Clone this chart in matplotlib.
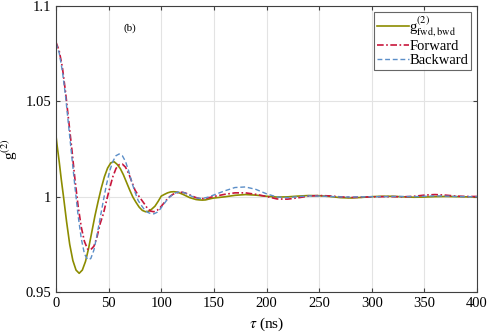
import matplotlib
matplotlib.use("Agg")
import matplotlib.pyplot as plt
import numpy as np

plt.rcParams['font.family'] = ['Liberation Serif', 'DejaVu Serif']
plt.rcParams['mathtext.fontset'] = 'stix'

# tau grid (ns): fine in the oscillating part, coarse in the tail
tau = [0, 3, 6, 9, 12, 15, 18, 21, 24, 27, 30, 33, 36, 39, 42, 45, 48, 51, 54,
       57, 60, 63, 66, 69, 72, 75, 78, 81, 84, 87, 90, 93, 96, 99, 102, 105,
       108, 111, 114, 117, 120, 123, 126, 129, 132, 135, 138, 141, 144, 147,
       150, 160, 170, 180, 190, 200, 210, 220, 230, 240, 250, 260, 270, 280,
       290, 300, 310, 320, 330, 340, 350, 360, 370, 380, 390, 400]

# olive curve uses its own early samples (it starts lower and turns earlier)
tau_fb = [0, 1, 3, 5, 7, 10, 13, 16, 19, 22, 25, 28, 31, 34, 37, 40, 43, 46,
          49, 52, 55, 58, 61, 64, 67, 70, 73, 76, 79, 82, 85, 88, 91, 94, 97,
          100, 103, 106, 109, 112, 115, 118, 121, 124, 127, 130, 133, 136,
          139, 142, 145, 148, 150, 160, 170, 180, 190, 200, 210, 220, 230,
          240, 250, 260, 270, 280, 290, 300, 310, 320, 330, 340, 350, 360,
          370, 380, 390, 400]
g_fb = [1.0318, 1.027, 1.0185, 1.009, 1.0005, 0.987, 0.975, 0.9665, 0.9615,
        0.9598, 0.9615, 0.966, 0.973, 0.9815, 0.990, 0.9975, 1.0045, 1.0105,
        1.015, 1.0177, 1.0184, 1.017, 1.0148, 1.0115, 1.0075, 1.0035, 0.9998,
        0.997, 0.9945, 0.9928, 0.9921, 0.9923, 0.9935, 0.995, 0.9975, 1.0003,
        1.0012, 1.002, 1.0025, 1.0026, 1.0024, 1.0018, 1.0011, 1.0003, 0.9995,
        0.999, 0.9985, 0.9983, 0.9982, 0.9983, 0.9987, 0.9991, 0.9993, 0.9999,
        1.0007, 1.0011, 1.0008, 1.0002, 0.9998, 0.9999, 1.0003, 1.0006, 1.0005,
        1.0001, 0.9995, 0.9993, 0.9996, 1.0000, 1.0002, 1.0002, 0.9999, 0.9997,
        0.9998, 1.0000, 1.0001, 1.0000, 0.9999, 0.9999]

g_fwd = [1.081, 1.0765, 1.068, 1.055, 1.040, 1.025, 1.009, 0.995, 0.984,
         0.9765, 0.9725, 0.9722, 0.974, 0.979, 0.986, 0.991, 0.998, 1.0045,
         1.0105, 1.0148, 1.0168, 1.0171, 1.0155, 1.0122, 1.0078, 1.0035,
         1.0008, 0.9985, 0.9962, 0.9937, 0.9924, 0.9921, 0.9928, 0.9943,
         0.9963, 0.9983, 1.0000, 1.0012, 1.002, 1.0023, 1.0023, 1.0019,
         1.0012, 1.0004, 0.9997, 0.9992, 0.999, 0.999, 0.9993, 0.9997,
         1.0001, 1.0012, 1.002, 1.002, 1.0012, 1.0001, 0.9988, 0.9987, 0.9994,
         1.0003, 1.0006, 1.0004, 0.9999, 0.9996, 0.9997, 0.9999, 1.0, 1.0,
         0.9999, 1.0002, 1.0008, 1.0011, 1.0008, 1.0003, 1.0001, 1.0001]

g_bwd = [1.0805, 1.0755, 1.066, 1.053, 1.037, 1.021, 1.005, 0.990, 0.978,
         0.970, 0.967, 0.9675, 0.972, 0.980, 0.989, 0.998, 1.0065, 1.0135,
         1.0185, 1.0215, 1.0224, 1.0215, 1.0185, 1.0135, 1.0075, 1.0025,
         0.998, 0.9955, 0.9932, 0.9918, 0.9911, 0.991, 0.9918, 0.9935,
         0.9958, 0.998, 0.9998, 1.0012, 1.0021, 1.0025, 1.0024, 1.0018,
         1.001, 1.0002, 0.9996, 0.9992, 0.9991, 0.9993, 0.9997, 1.0003,
         1.0009, 1.003, 1.0048, 1.0051, 1.0038, 1.0015, 0.9998, 0.9995, 1.0,
         1.0004, 1.0003, 1.0001, 0.9999, 0.9998, 0.9999, 1.0, 1.0, 1.0001,
         1.0001, 1.0, 1.0002, 1.0004, 1.0003, 1.0001, 1.0, 1.0]

fig = plt.figure(figsize=(4.88, 3.35), dpi=100)
ax = fig.add_axes([0.1148, 0.1284, 0.8627, 0.8536])

ax.plot(tau_fb, g_fb, color='#8c8c00', lw=1.2, label=r'g$^{(2)}_{\rm fwd,bwd}$')
ax.plot(tau, g_fwd, color='#c8163c', lw=1.2, ls=(0, (4, 1.5, 1, 1.5)), label='Forward')
ax.plot(tau, g_bwd, color='#5b8ec8', lw=1.0, ls=(0, (3.5, 2)), label='Backward')

ax.set_xlim(0, 400)
ax.set_ylim(0.95, 1.1)
ax.set_xticks(np.arange(0, 401, 50))
ax.set_yticks([0.95, 1.0, 1.05, 1.1])
ax.set_yticklabels(['0.95', '1', '1.05', '1.1'])
ax.grid(True, color='#e3e3e3', lw=0.8)
ax.tick_params(direction='in', top=True, right=True, labelsize=10.5,
               length=3, color='#404040')
for s in ax.spines.values():
    s.set_color('#404040')
    s.set_linewidth(0.8)

ax.set_xlabel(r'$\tau$ (ns)', fontsize=11, labelpad=4)
ax.set_ylabel(r'g$^{(2)}$', fontsize=11, labelpad=4)
ax.text(70, 1.0885, '(b)', fontsize=8, ha='center', va='center')

leg = ax.legend(loc='upper right', fontsize=10.5, frameon=True, fancybox=False,
                handlelength=2.2, handletextpad=0.05, borderpad=0.2,
                labelspacing=0.05, borderaxespad=0.4, edgecolor='#404040')
leg.get_frame().set_linewidth(0.8)

fig.savefig('out.png', dpi=100)
